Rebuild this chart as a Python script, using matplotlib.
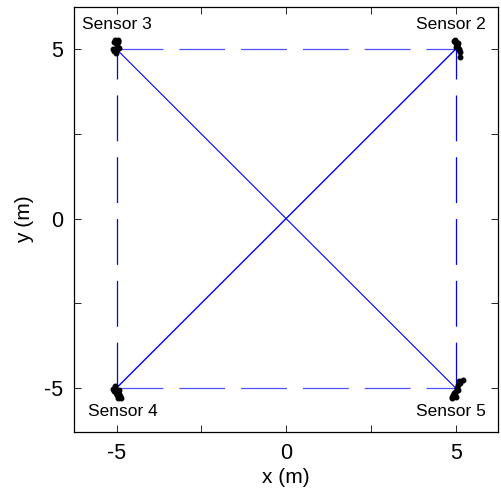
import matplotlib
matplotlib.use("Agg")
import matplotlib.pyplot as plt

plt.rcParams['font.family'] = ['Liberation Sans', 'DejaVu Sans']
plt.rcParams['lines.scale_dashes'] = False

# sensor corner positions (m)
sensor_names = ["Sensor 2", "Sensor 3", "Sensor 4", "Sensor 5"]
sensor_x = [5, -5, -5, 5]
sensor_y = [5, 5, -5, -5]

# estimated positions scattered around each sensor (offsets in m)
s2_dx = [-0.05, -0.02, 0.00, 0.03, 0.05, 0.08, 0.10, 0.06, 0.02, 0.12, 0.14, -0.03, 0.04, 0.09]
s2_dy = [0.25, 0.28, 0.20, 0.15, 0.10, 0.05, -0.02, 0.18, 0.08, -0.08, -0.24, 0.22, 0.12, 0.02]
s3_dx = [-0.08, -0.05, -0.02, 0.02, 0.05, 0.07, 0.04, -0.06, 0.00, -0.03, -0.09, 0.03]
s3_dy = [0.22, 0.26, 0.18, 0.12, 0.20, 0.05, 0.28, -0.05, 0.02, -0.12, 0.00, 0.24]
s4_dx = [-0.10, -0.05, 0.00, 0.05, 0.08, 0.10, 0.03, -0.03, 0.06, 0.12, -0.08, 0.01]
s4_dy = [-0.02, 0.05, -0.08, -0.12, -0.18, -0.25, -0.30, -0.15, -0.05, -0.30, -0.10, -0.22]
s5_dx = [-0.12, -0.08, -0.04, 0.00, 0.04, 0.08, 0.12, 0.06, -0.02, 0.10, 0.22, -0.10, 0.02]
s5_dy = [-0.30, -0.22, -0.15, -0.08, 0.00, 0.08, 0.15, -0.05, -0.20, 0.20, 0.22, -0.26, -0.28]

fig = plt.figure(figsize=(5.01, 4.92), dpi=100)
ax = fig.add_axes([0.148, 0.122, 0.846, 0.864])

blue = '#0000ff'
dash_pat = (33, 11.5)

# square edges (dashed)
ax.plot([sensor_x[1], sensor_x[0]], [sensor_y[1], sensor_y[0]], color='#5050ff', lw=0.9, dashes=dash_pat)
ax.plot([sensor_x[2], sensor_x[3]], [sensor_y[2], sensor_y[3]], color='#5050ff', lw=0.9, dashes=dash_pat)
ax.plot([sensor_x[2], sensor_x[1]], [sensor_y[2], sensor_y[1]], color=blue, lw=0.9, dashes=dash_pat)
ax.plot([sensor_x[3], sensor_x[0]], [sensor_y[3], sensor_y[0]], color=blue, lw=0.9, dashes=dash_pat)

# diagonals
ax.plot([sensor_x[2], sensor_x[0]], [sensor_y[2], sensor_y[0]], color=blue, lw=1.0)
ax.plot([sensor_x[1], sensor_x[3]], [sensor_y[1], sensor_y[3]], color=blue, lw=0.8)

# scatter clouds
clouds = [(s2_dx, s2_dy), (s3_dx, s3_dy), (s4_dx, s4_dy), (s5_dx, s5_dy)]
for (sx, sy), (dx, dy) in zip(zip(sensor_x, sensor_y), clouds):
    ax.plot([sx + d for d in dx], [sy + d for d in dy], '.', color='k', ms=6.5)

# sensor labels
label_x = [4.85, -5.0, -4.8, 4.85]
label_y = [5.72, 5.72, -5.7, -5.7]
for name, lx, ly in zip(sensor_names, label_x, label_y):
    ax.text(lx, ly, name, fontsize=12.5, ha='center', va='center')

ax.set_xlim(-6.25, 6.25)
ax.set_ylim(-6.3, 6.25)
ticks = [-5, -2.5, 0, 2.5, 5]
tick_labels = ['-5', '', '0', '', '5']
ax.set_xticks(ticks)
ax.set_xticklabels(tick_labels)
ax.set_yticks(ticks)
ax.set_yticklabels(tick_labels)
ax.tick_params(direction='in', length=5, width=0.6, labelsize=15.5,
               top=True, right=True, pad=8)
for sp in ax.spines.values():
    sp.set_linewidth(0.9)

ax.set_xlabel('x (m)', fontsize=15, labelpad=3)
ax.set_ylabel('y (m)', fontsize=15, labelpad=7)

fig.savefig('out.png', dpi=100)
